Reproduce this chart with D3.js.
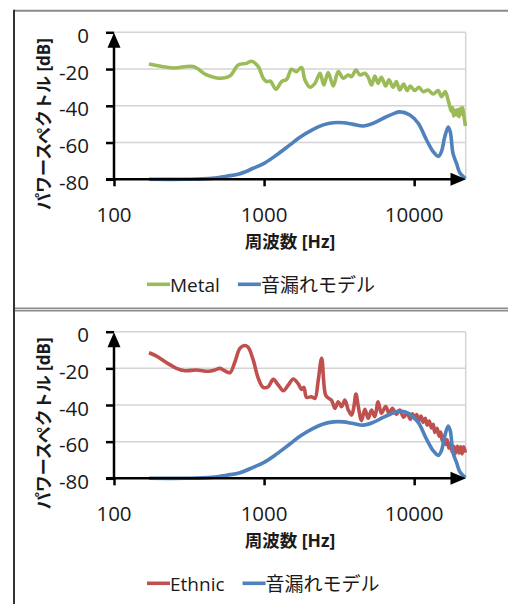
<!DOCTYPE html>
<html><head><meta charset="utf-8">
<script src="https://cdn.jsdelivr.net/npm/d3@7"></script>
<style>body{margin:0;background:#fff}</style>
</head><body>
<svg id="c" width="508" height="604"></svg>
<script>
// ---- data ----
const xTicks = [100, 1000, 10000];
const yTicks = [0, -20, -40, -60, -80];

const metalFreq = [171,248,337,414,508,592,673,764,826,915,987,1039,1101,1200,1309,1414,1525,1640,1777,1871,2020,2181,2360,2500,2673,2889,3120,3368,3638,3829,4093,4349,4698,4942,5199,5468,5750,6047,6465,6800,7240,7617,8010,8515,8960,9420,10090,10760,11480,12390,13380,14450,15200,16130,16820,17300,17720,18000,18340,18700,19100,19500,19900,20300,20600,21000,21400,21950];
const metalDb   = [-17.3,-19.4,-18.6,-23.2,-25.0,-23.8,-17.8,-16.9,-15.8,-18.7,-25.0,-26.8,-26.6,-31.0,-26.8,-25.6,-20.1,-21.4,-19.2,-25.9,-29.9,-27.8,-22.3,-28.7,-21.9,-29.2,-21.4,-25.0,-23.2,-24.1,-20.5,-23.2,-22.3,-24.5,-28.7,-23.8,-27.8,-24.5,-29.2,-25.9,-29.9,-26.8,-31.4,-28.1,-31.7,-29.2,-31.7,-29.9,-32.3,-31.4,-33.6,-31.7,-35.0,-32.3,-36.8,-40.5,-43.0,-41.0,-45.5,-42.5,-45.0,-42.0,-46.0,-41.5,-44.5,-41.0,-45.0,-51.0];

const ethnicFreq = [171,192,224,261,297,355,425,470,508,547,592,640,690,747,785,847,915,987,1066,1151,1243,1343,1450,1565,1690,1777,1842,1918,2071,2181,2296,2420,2570,2700,2810,2964,3120,3283,3455,3638,3829,3968,4093,4237,4459,4698,4942,5199,5468,5750,6047,6465,6800,7150,7617,8010,8515,8960,9420,9750,10090,10400,10760,11100,11480,11850,12220,12600,13050,13400,13720,14200,14650,15000,15400,15800,16200,16600,17040,17450,17900,18350,18800,19400,19900,20400,20850,21400,21950];
const ethnicDb   = [-11.5,-13.3,-16.9,-20.0,-21.3,-20.9,-21.6,-20.9,-20.0,-21.3,-22.4,-16.4,-9.1,-7.5,-8.6,-15.5,-25.5,-30.4,-30.0,-26.0,-29.1,-32.2,-29.1,-25.8,-28.5,-31.5,-30.4,-35.8,-35.5,-36.4,-26.4,-14.5,-34.5,-36.4,-37.3,-41.8,-38.2,-40.9,-37.3,-42.7,-45.5,-40.9,-34.0,-40.5,-48.5,-42.4,-47.3,-42.7,-46.4,-38.2,-44.5,-40.9,-44.5,-41.8,-45.1,-42.7,-46.7,-44.2,-47.8,-44.8,-47.5,-45.2,-48.5,-46.0,-49.5,-47.2,-51.0,-48.8,-52.5,-50.5,-55.0,-52.7,-57.0,-54.8,-59.5,-57.0,-61.5,-59.0,-63.5,-61.0,-65.5,-62.5,-66.4,-62.5,-66.2,-62.8,-66.7,-62.8,-66.0];

const modelFreq = [171,300,450,563,690,847,1000,1210,1485,1733,2125,2480,2889,3368,3926,4575,5334,6217,7240,8035,9360,10640,12090,13380,14490,15200,16000,16870,17400,18150,19180,20190,21950];
const modelDb   = [-80,-80,-79.5,-78.3,-77.0,-74.0,-71.3,-66.8,-61.3,-57.1,-52.8,-50.4,-49.2,-49.2,-50.1,-51.0,-49.5,-46.8,-44.4,-43.3,-45.0,-49.5,-58.6,-64.9,-67.5,-64.9,-56.8,-51.5,-54.1,-65.9,-71.5,-76.6,-79.6];

const seriesNames = ["Metal", "Ethnic", "音漏れモデル"];
const seriesColors = {Metal: "#9BBB59", Ethnic: "#C0504D", model: "#4F81BD"};
const xTitle = "周波数 [Hz]";
const yTitle = "パワースペクトル [dB]";

// ---- drawing ----
const svg = d3.select("#c");
const FONT = "'Open Sans', 'Noto Sans CJK JP', sans-serif";
const TXT = "#1a1a1a";

function zip(f, v) { return f.map((d, i) => ({f: d, v: v[i]})); }

// panel frames
const frame = svg.append("g");
frame.append("line").attr("x1", 14).attr("x2", 508).attr("y1", 10.7).attr("y2", 10.7).attr("stroke", "#8a8a8a").attr("stroke-width", 2);
frame.append("line").attr("x1", 14).attr("x2", 508).attr("y1", 308.3).attr("y2", 308.3).attr("stroke", "#8a8a8a").attr("stroke-width", 1.6);
frame.append("line").attr("x1", 14).attr("x2", 508).attr("y1", 310.6).attr("y2", 310.6).attr("stroke", "#8a8a8a").attr("stroke-width", 1.6);
frame.append("line").attr("x1", 14).attr("x2", 14).attr("y1", 9.7).attr("y2", 604).attr("stroke", "#333").attr("stroke-width", 2);

function panel(top, bottom, mainName, mainData) {
  const g = svg.append("g");
  const x = d3.scaleLog().domain([100, 22050]).range([114, 465.7]);
  const y = d3.scaleLinear().domain([-80, 0]).range([bottom, top]);

  // gridlines
  g.append("g").selectAll("line").data(yTicks).join("line")
    .attr("x1", 114).attr("x2", 465.7)
    .attr("y1", d => y(d)).attr("y2", d => y(d))
    .attr("stroke", "#d4d4d4").attr("stroke-width", 1.5);
  g.append("line").attr("x1", 465.7).attr("x2", 465.7).attr("y1", top).attr("y2", bottom)
    .attr("stroke", "#d4d4d4").attr("stroke-width", 1.5);

  // y axis
  const ya = g.append("g").attr("transform", "translate(114,0)")
    .call(d3.axisLeft(y).tickValues(yTicks).tickSize(8).tickPadding(0).tickFormat(""));
  ya.select(".domain").remove();
  ya.selectAll(".tick line").attr("stroke", "#000").attr("stroke-width", 2.5);
  g.append("g").selectAll("text").data(yTicks).join("text")
    .attr("x", 89).attr("y", d => y(d) + 10.5)
    .attr("text-anchor", "end").attr("font-family", FONT).attr("font-size", 20.5)
    .attr("fill", TXT).text(d => d);

  // x axis
  const xa = g.append("g").attr("transform", `translate(0,${bottom})`)
    .call(d3.axisBottom(x).tickValues(xTicks).tickSize(7).tickFormat(""));
  xa.select(".domain").remove();
  xa.selectAll(".tick line").attr("stroke", "#000").attr("stroke-width", 2.5);
  g.append("g").selectAll("text").data(xTicks).join("text")
    .attr("x", d => x(d)).attr("y", bottom + 42.4)
    .attr("text-anchor", "middle").attr("font-family", FONT).attr("font-size", 20.5)
    .attr("fill", TXT).text(d => d);

  // axis titles
  g.append("text").attr("x", 290).attr("y", bottom + 68.2)
    .attr("text-anchor", "middle").attr("font-family", FONT).attr("font-size", 17.5)
    .attr("font-weight", "bold").attr("fill", TXT).text(xTitle);
  g.append("text").attr("transform", `translate(43,${top + 91.7}) rotate(-90)`)
    .attr("text-anchor", "middle").attr("dominant-baseline", "central")
    .attr("font-family", FONT).attr("font-size", 17)
    .attr("font-weight", "bold").attr("fill", TXT).text(yTitle);

  // series
  const line = d3.line().x(d => x(d.f)).y(d => y(d.v)).curve(d3.curveCatmullRom.alpha(0.5));
  g.append("path").datum(mainData).attr("d", line).attr("fill", "none")
    .attr("stroke", seriesColors[mainName]).attr("stroke-width", 3.6).attr("stroke-linejoin", "round");
  g.append("path").datum(zip(modelFreq, modelDb)).attr("d", line).attr("fill", "none")
    .attr("stroke", seriesColors.model).attr("stroke-width", 3.6).attr("stroke-linejoin", "round");

  // axis lines with arrows
  g.append("line").attr("x1", 114).attr("x2", 114).attr("y1", bottom).attr("y2", top + 8)
    .attr("stroke", "#000").attr("stroke-width", 2.5);
  g.append("path").attr("d", `M114,${top + 0.5} L107.5,${top + 15.5} L120.5,${top + 15.5} Z`).attr("fill", "#000");
  g.append("line").attr("x1", 106).attr("x2", 458).attr("y1", bottom).attr("y2", bottom)
    .attr("stroke", "#000").attr("stroke-width", 2.5);
  g.append("path").attr("d", `M466,${bottom} L450.5,${bottom - 6.5} L450.5,${bottom + 6.5} Z`).attr("fill", "#000");

  // legend
  const lg = g.append("g");
  const ly = bottom + 105;
  const items = [{name: mainName, color: seriesColors[mainName]}, {name: seriesNames[2], color: seriesColors.model}];
  let cx = 147;
  items.forEach(it => {
    lg.append("line").attr("x1", cx).attr("x2", cx + 23).attr("y1", ly).attr("y2", ly)
      .attr("stroke", it.color).attr("stroke-width", 3.6);
    const t = lg.append("text").attr("x", cx + 23).attr("y", ly + 7.5)
      .attr("font-family", FONT).attr("font-size", 19).attr("fill", TXT).text(it.name);
    cx += 23 + t.node().getComputedTextLength() + 18;
  });
}

panel(32.3, 179.3, "Metal", zip(metalFreq, metalDb));
panel(331.7, 478.3, "Ethnic", zip(ethnicFreq, ethnicDb));
</script>
</body></html>
